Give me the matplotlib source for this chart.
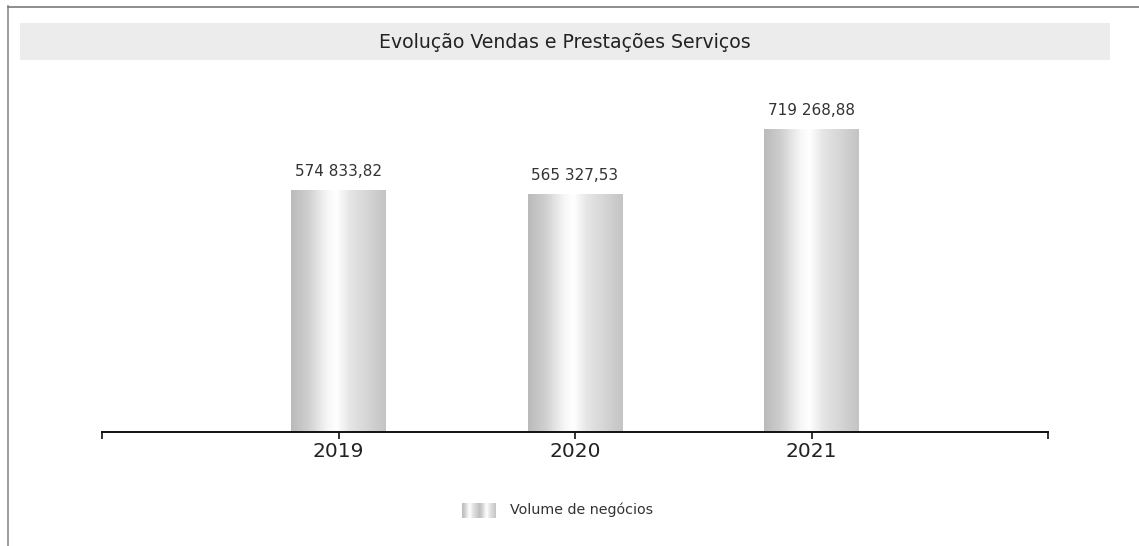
import numpy as np
import matplotlib
matplotlib.use("Agg")
import matplotlib.pyplot as plt
from matplotlib.colors import LinearSegmentedColormap
from matplotlib.patches import Rectangle

plt.rcParams['font.family'] = ['DejaVu Sans']

anos = ['2019', '2020', '2021']
volume = [574833.82, 565327.53, 719268.88]
titulo = 'Evolução Vendas e Prestações Serviços'
serie = 'Volume de negócios'

W, H = 1139, 546
fig = plt.figure(figsize=(W / 100, H / 100), dpi=100)
fig.patch.set_facecolor('white')

# moldura e faixa do titulo
fig.add_artist(plt.Line2D([8 / W, 8 / W], [0, 1 - 6 / H], transform=fig.transFigure, color='#8c8c8c', lw=1.2))
fig.add_artist(plt.Line2D([8 / W, 1], [1 - 7 / H, 1 - 7 / H], transform=fig.transFigure, color='#7a7a7a', lw=1.2))
fig.add_artist(Rectangle((20 / W, 1 - 60 / H), 1090 / W, 37 / H, transform=fig.transFigure,
                         facecolor='#ececec', edgecolor='none'))
fig.text(565 / W, 1 - 42 / H, titulo, ha='center', va='center', fontsize=13.6, color='#222222')

ax = fig.add_axes([102 / W, 1 - 432 / H, 946 / W, 372 / H])
for s in ['top', 'right', 'left']:
    ax.spines[s].set_visible(False)
ax.spines['bottom'].set_linewidth(1.4)
ax.spines['bottom'].set_color('#111111')
ax.set_yticks([])
ax.set_xticks([-1, 0, 1, 2, 3])
ax.set_xticklabels([''] + anos + [''], fontsize=14.5, color='#222222')
ax.tick_params(axis='x', length=5, width=1.2, color='#111111', pad=2)

# gradiente tipo cilindro
cmap = LinearSegmentedColormap.from_list('cil', [
    (0.0, '#bababa'), (0.18, '#cfcfcf'), (0.38, '#f6f6f6'), (0.48, '#ffffff'),
    (0.62, '#e6e6e6'), (1.0, '#c4c4c4')])
grad = np.linspace(0, 1, 256).reshape(1, -1)

larg = 0.40
for i, v in enumerate(volume):
    ax.imshow(grad, cmap=cmap, aspect='auto', extent=(i - larg / 2, i + larg / 2, 0, v),
              interpolation='bicubic', zorder=2)
    txt = f'{v:,.2f}'.replace(',', ' ').replace('.', ',')
    ax.annotate(txt, (i, v), xytext=(0, 8), textcoords='offset points', ha='center', va='bottom',
                fontsize=11, color='#333333')
ax.set_xlim(-1, 3)
ax.set_ylim(0, 884000)

# legenda
lax = fig.add_axes([462 / W, 1 - 518 / H, 34 / W, 15 / H])
lax.imshow(np.tile(grad, (1, 2)), cmap=cmap, aspect='auto', interpolation='bicubic')
lax.axis('off')
fig.text(510 / W, 1 - 510 / H, serie, ha='left', va='center', fontsize=10.3, color='#333333')

fig.savefig('out.png', dpi=100)
